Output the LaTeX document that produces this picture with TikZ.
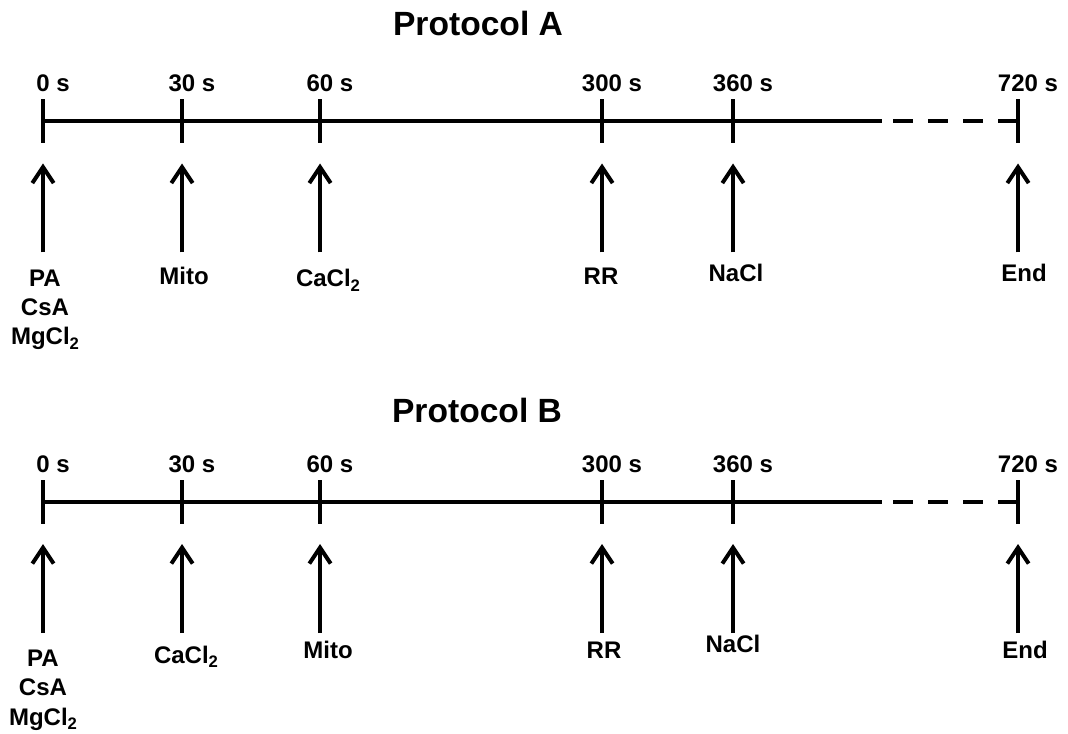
\documentclass[tikz,border=0pt]{standalone}
\usepackage{fontspec}
\setmainfont{Liberation Sans}
\usetikzlibrary{arrows.meta}
\newcommand{\subtwo}{\raisebox{-3.5pt}{\fontsize{12.5}{12.5}\selectfont 2}}
\begin{document}
\begin{tikzpicture}[x=0.75pt,y=-0.75pt,
  axis/.style={line width=3pt},
  tickmark/.style={line width=3pt},
  upar/.style={line width=3pt,-{Straight Barb[length=12pt,width=16pt]}},
  lbl/.style={font=\fontsize{18}{22}\selectfont\bfseries,inner sep=0pt,align=center},
  ttl/.style={font=\fontsize{25.2}{30}\selectfont\bfseries,inner sep=0pt}]
\useasboundingbox (0,0) rectangle (1068,734);

% titles
\node[ttl,anchor=base] (titleA) at (478,36) {Protocol A};
\node[ttl,anchor=base] (titleB) at (477,422) {Protocol B};

% the two time axes with ticks, time labels and arrows
\foreach \row/\ly in {A/121.5,B/502}{
  \coordinate (\row s) at (43,\ly);
  \coordinate (\row m) at (882,\ly);
  \coordinate (\row d) at (893,\ly);
  \coordinate (\row e) at (1018,\ly);
  \draw[axis] (\row s) -- (\row m);
  \draw[axis,dash pattern=on 15pt off 11.25pt] (\row d) -- (\row e);
  \foreach \k/\x/\t in {0/43/0 s,1/182/30 s,2/320/60 s,3/602/300 s,4/733/360 s,5/1018/720 s}{
    \coordinate (\row tt\k) at (\x,\ly-22);
    \coordinate (\row tb\k) at (\x,\ly+22);
    \draw[tickmark] (\row tt\k) -- (\row tb\k);
    \node[lbl,anchor=base] (\row tl\k) at (\x+10,\ly-29.5) {\t};
    \coordinate (\row ah\k) at (\x,\ly+42);
    \coordinate (\row at\k) at (\x,\ly+131);
    \draw[upar] (\row at\k) -- (\row ah\k);
  }
}

% additions, protocol A (multi-line labels sit on their last baseline)
\node[lbl,anchor=base] (Al0) at (45,345) {PA\\CsA\\MgCl\subtwo};
\node[lbl,anchor=base] (Al1) at (184,285) {Mito};
\node[lbl,anchor=base] (Al2) at (328,287) {CaCl\subtwo};
\node[lbl,anchor=base] (Al3) at (601,285) {RR};
\node[lbl,anchor=base] (Al4) at (736,282) {NaCl};
\node[lbl,anchor=base] (Al5) at (1024,282) {End};

% additions, protocol B
\node[lbl,anchor=base] (Bl0) at (43,725) {PA\\CsA\\MgCl\subtwo};
\node[lbl,anchor=base] (Bl1) at (186,663) {CaCl\subtwo};
\node[lbl,anchor=base] (Bl2) at (328,658) {Mito};
\node[lbl,anchor=base] (Bl3) at (604,658) {RR};
\node[lbl,anchor=base] (Bl4) at (733,652) {NaCl};
\node[lbl,anchor=base] (Bl5) at (1025,658) {End};
\end{tikzpicture}
\end{document}
